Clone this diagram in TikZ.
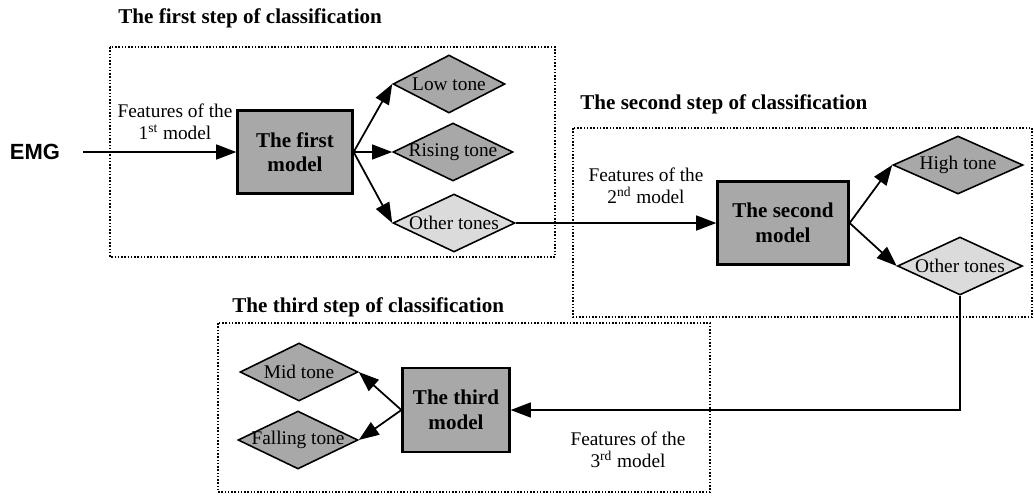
\documentclass[tikz,border=0pt]{standalone}
\usepackage{fontspec}
\setmainfont{Liberation Serif}
\setsansfont{Liberation Sans}
\usetikzlibrary{shapes.geometric,arrows.meta}
\definecolor{modelgray}{gray}{0.66}
\definecolor{tonegray}{gray}{0.66}
\definecolor{othergray}{gray}{0.86}

\begin{document}
\begin{tikzpicture}[x=0.02cm, y=-0.02cm, >={Triangle[length=11.5pt,width=8.5pt]},
  model node/.style={rectangle,draw,line width=1.3pt,fill=modelgray,align=center,font=\fontsize{12}{14}\selectfont\bfseries},
  tone node/.style={diamond,draw,line width=0.9pt,fill=tonegray,aspect=2,inner sep=0pt,inner xsep=-4pt,minimum width=2.4cm,minimum height=1.16cm,font=\fontsize{11}{13}\selectfont},
  other node/.style={tone node,fill=othergray},
  feat node/.style={align=center,inner sep=0pt,font=\fontsize{11}{12.5}\selectfont},
  title node/.style={anchor=west,inner sep=0pt,font=\fontsize{12}{14}\selectfont\bfseries},
  step box/.style={densely dotted,line width=0.85pt},
  flow/.style={->,line width=1pt}]
    \useasboundingbox (0,0) rectangle (1034,495);
    % the three steps
    \draw[step box] (110,47) rectangle (555,257);
    \draw[step box] (573,128) rectangle (1032,317);
    \draw[step box] (218,323) rectangle (710,492);
    \node[title node] (title1) at (118,18) {The first step of classification};
    \node[title node] (title2) at (580,104) {The second step of classification};
    \node[title node] (title3) at (232,307) {The third step of classification};
    % first step
    \node[font=\fontsize{12.5}{14}\selectfont\sffamily\bfseries] (emg) at (35,152) {EMG};
    \node[model node,minimum width=2.3cm,minimum height=1.66cm] (first) at (295,152) {The first\\model};
    \node[feat node] (feat1) at (175,122) {Features of the\\1\textsuperscript{st} model};
    \node[tone node,minimum width=2.24cm] (low) at (449,84) {Low tone};
    \node[tone node] (rising) at (453,152) {Rising tone};
    \node[other node,minimum width=2.44cm] (other1) at (454,223) {Other tones};
    % second step
    \node[model node,minimum width=2.62cm,minimum height=1.66cm] (second) at (783,223) {The second\\model};
    \node[feat node] (feat2) at (646,186) {Features of the\\2\textsuperscript{nd} model};
    \node[tone node,minimum width=2.6cm] (high) at (958,165) {High tone};
    \node[other node,minimum width=2.5cm] (other2) at (960,266) {Other tones};
    % third step
    \node[model node,minimum width=2.14cm,minimum height=1.68cm] (third) at (456,410) {The third\\model};
    \node[feat node] (feat3) at (628,450) {Features of the\\3\textsuperscript{rd} model};
    \node[tone node,minimum width=2.36cm] (mid) at (299,372) {Mid tone};
    \node[tone node] (falling) at (298,440) {Falling tone};
    % connectors
    \draw[flow,shorten <=0.34cm] (emg.east) -- (first.west);
    \foreach \t in {low,rising,other1}
        \draw[flow] (first.east) -- (\t.west);
    \draw[flow] (other1.east) -- (second.west);
    \foreach \t in {high,other2}
        \draw[flow] (second.east) -- (\t.west);
    \draw[flow] (other2.south) |- (third.east);
    \foreach \t in {mid,falling}
        \draw[flow] (third.west) -- (\t.east);
\end{tikzpicture}
\end{document}
